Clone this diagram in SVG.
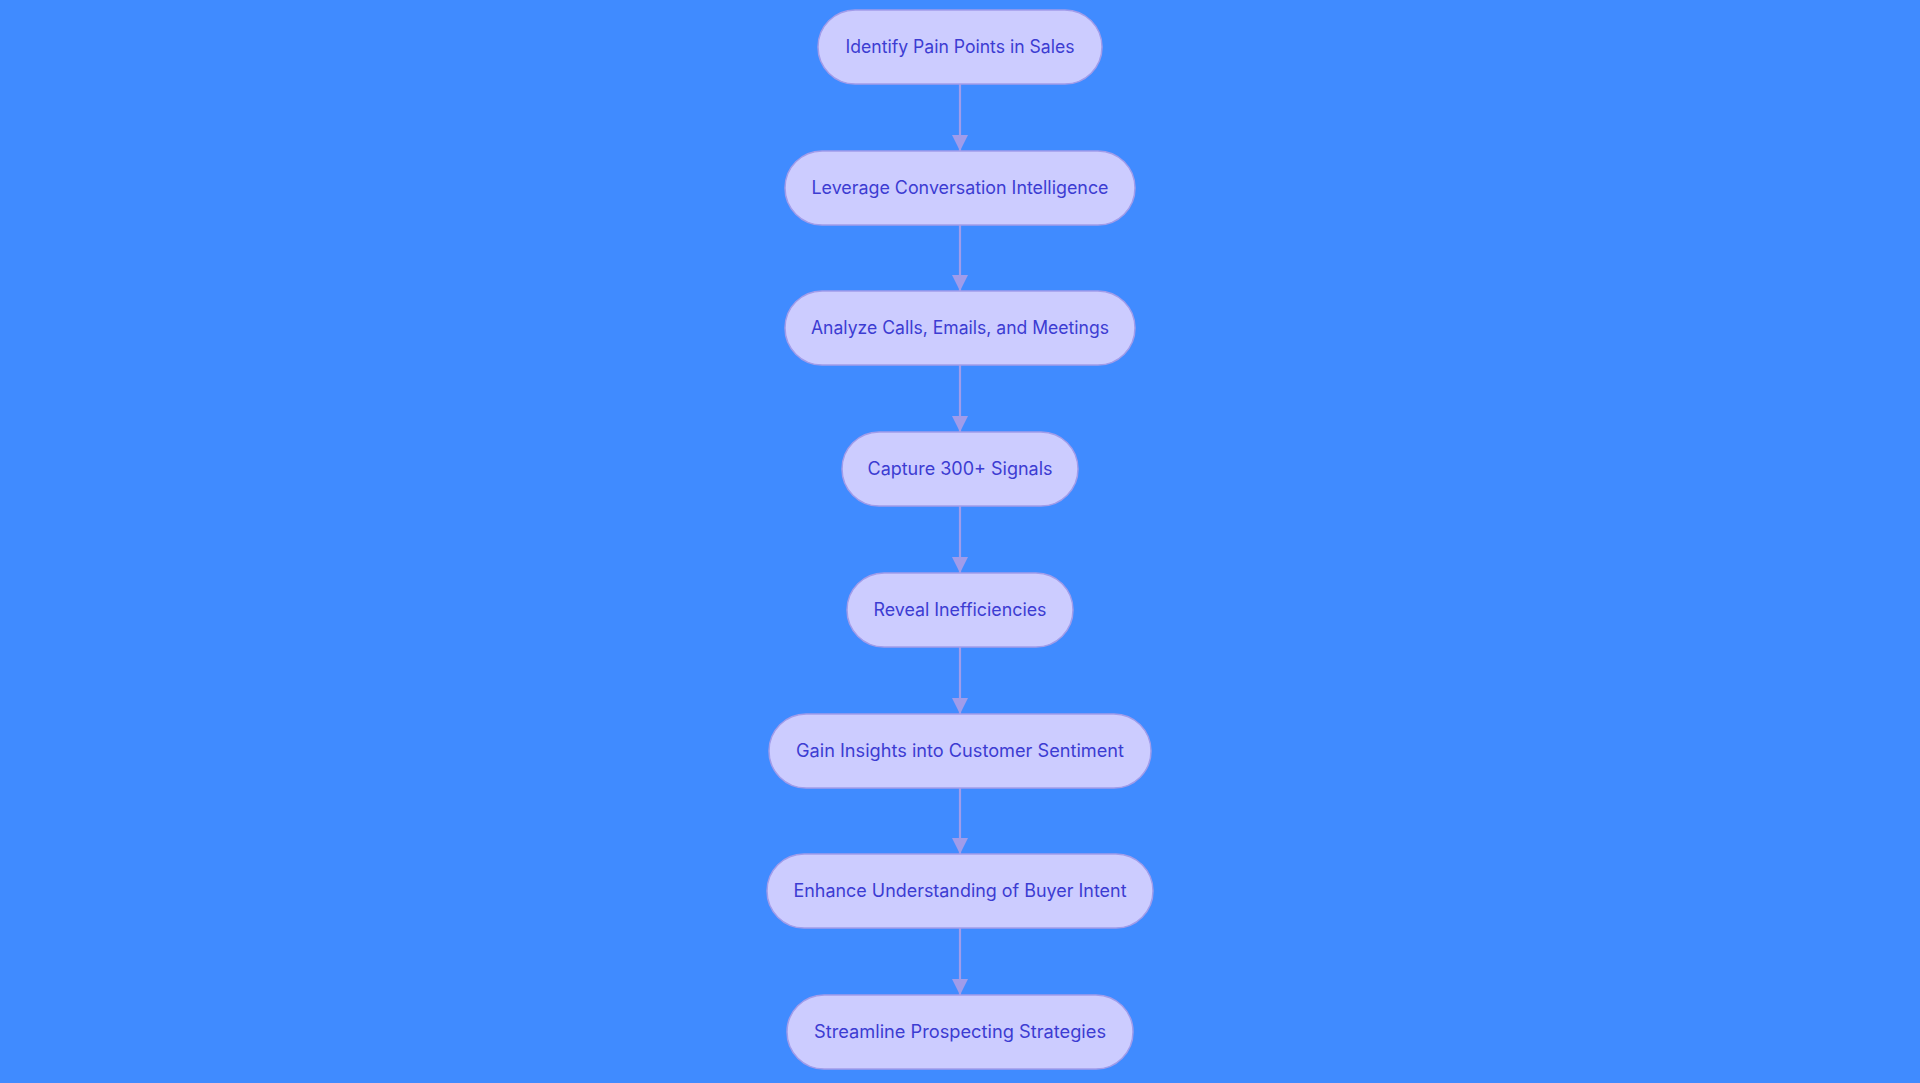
<svg xmlns="http://www.w3.org/2000/svg" width="1920" height="1083" viewBox="0 0 1920 1083">
<defs>
<style>
.bg{fill:#408BFF}
.node rect{fill:#CCCCFF;stroke:#A19CEA;stroke-width:1.5}
.node text{font-family:Inter,"Open Sans","Liberation Sans",sans-serif;font-size:18px;fill:#3C3CD2;text-anchor:middle}
.edge{stroke:#A09CEA;stroke-width:2.2;fill:none}
</style>
<marker id="arrow" viewBox="0 0 16 16" refX="16" refY="8" markerWidth="16" markerHeight="16" markerUnits="userSpaceOnUse" orient="auto">
<path d="M0,0 L16,8 L0,16 Z" fill="#A09CEA"/>
</marker>
</defs>
<rect class="bg" x="0" y="0" width="1920" height="1083"/>
<g id="connectors">
<line class="edge" x1="960" y1="84" x2="960" y2="151" marker-end="url(#arrow)"/>
<line class="edge" x1="960" y1="225" x2="960" y2="291" marker-end="url(#arrow)"/>
<line class="edge" x1="960" y1="365" x2="960" y2="432" marker-end="url(#arrow)"/>
<line class="edge" x1="960" y1="506" x2="960" y2="573" marker-end="url(#arrow)"/>
<line class="edge" x1="960" y1="647" x2="960" y2="714" marker-end="url(#arrow)"/>
<line class="edge" x1="960" y1="788" x2="960" y2="854" marker-end="url(#arrow)"/>
<line class="edge" x1="960" y1="928" x2="960" y2="995" marker-end="url(#arrow)"/>
</g>
<g id="n1" class="node"><rect x="818" y="10" width="284" height="74" rx="37"/><text x="960" y="53" textLength="229" lengthAdjust="spacingAndGlyphs">Identify Pain Points in Sales</text></g>
<g id="n2" class="node"><rect x="785" y="151" width="350" height="74" rx="37"/><text x="960" y="194" textLength="297" lengthAdjust="spacingAndGlyphs">Leverage Conversation Intelligence</text></g>
<g id="n3" class="node"><rect x="785" y="291" width="350" height="74" rx="37"/><text x="960" y="334" textLength="298" lengthAdjust="spacingAndGlyphs">Analyze Calls, Emails, and Meetings</text></g>
<g id="n4" class="node"><rect x="842" y="432" width="236" height="74" rx="37"/><text x="960" y="475" textLength="185" lengthAdjust="spacingAndGlyphs">Capture 300+ Signals</text></g>
<g id="n5" class="node"><rect x="847" y="573" width="226" height="74" rx="37"/><text x="960" y="616" textLength="173" lengthAdjust="spacingAndGlyphs">Reveal Inefficiencies</text></g>
<g id="n6" class="node"><rect x="769" y="714" width="382" height="74" rx="37"/><text x="960" y="757" textLength="328" lengthAdjust="spacingAndGlyphs">Gain Insights into Customer Sentiment</text></g>
<g id="n7" class="node"><rect x="767" y="854" width="386" height="74" rx="37"/><text x="960" y="897" textLength="333" lengthAdjust="spacingAndGlyphs">Enhance Understanding of Buyer Intent</text></g>
<g id="n8" class="node"><rect x="787" y="995" width="346" height="74" rx="37"/><text x="960" y="1038" textLength="292" lengthAdjust="spacingAndGlyphs">Streamline Prospecting Strategies</text></g>
</svg>
